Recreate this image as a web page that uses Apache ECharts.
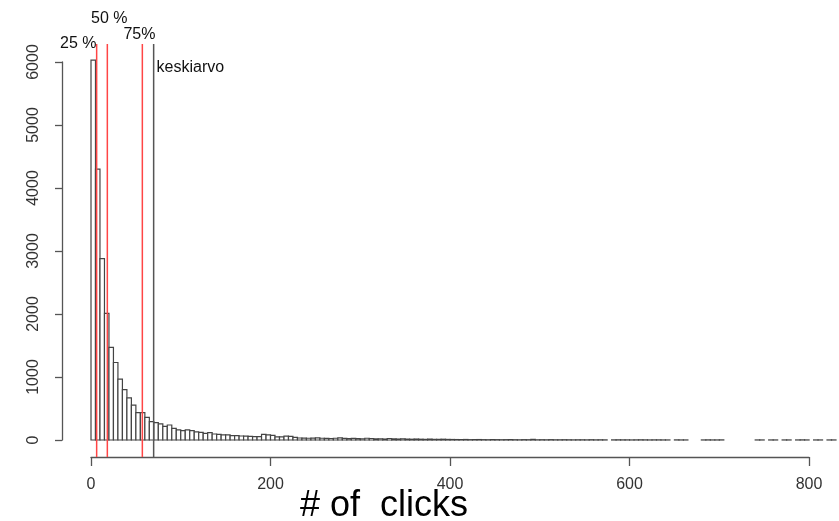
<!DOCTYPE html>
<html>
<head>
<meta charset="utf-8">
<style>
  html, body { margin: 0; padding: 0; background: #fff; }
  #chart { width: 839px; height: 521px; }
</style>
<script src="https://cdn.jsdelivr.net/npm/echarts@6/dist/echarts.min.js"></script>
</head>
<body>
<div id="chart"></div>
<script>
// ---- data ----
const binWidth = 5;
const counts = [
  6030,4300,2880,2010,1470,1230,965,800,670,555,435,435,360,290,275,
  255,215,238,185,160,150,160,148,128,122,106,116,95,90,80,
  80,70,70,63,60,58,55,55,88,80,72,50,48,62,58,
  40,32,30,28,30,35,28,25,24,28,34,26,22,25,22,
  20,28,24,18,20,15,24,18,15,20,14,12,15,12,10,14,10,10,12,9,8,
  7,6,8,5,6,7,5,4,6,5,
  4,5,6,4,3,5,4,10,3,4,
  3,5,3,3,4,3,2,3,3,2,
  4,2,3,2,
  0,
  2,3,2,2,1,2,3,2,1,2,2,
  1,1,0,
  2,1,1,
  0,0,0,
  1,2,1,1,2,
  0,0,0,0,0,0,0,
  1,1,0,1,1,0,1,1,0,1,2,1,0,1,1,0,1,1
];
const binStarts = counts.map((_, i) => i * binWidth);
const quantileValues = [6.3, 18.2, 57.2];
const quantileLabels = ['25 %', '50 %', '75%'];
const meanValue = 69.8;
const meanLabel = 'keskiarvo';
const xTickValues = [0, 200, 400, 600, 800];
const yTickValues = [0, 1000, 2000, 3000, 4000, 5000, 6000];
const xAxisTitle = '# of  clicks';

// ---- layout ----
const FONT = 'Liberation Sans, Arial, sans-serif';
const xMaxData = 830;
const yMinData = -270, yMaxData = 6286;

const chart = echarts.init(document.getElementById('chart'), null, { renderer: 'canvas' });

const histData = binStarts.map((s, i) => [s, counts[i]]);

const vLines = quantileValues.map((q) => ({
  type: 'line', xAxisIndex: 0, yAxisIndex: 0, symbol: 'none', silent: true, z: 5,
  data: [[q, yMinData], [q, yMaxData]],
  lineStyle: { color: '#ff4545', width: 1.5 }
}));
vLines.push({
  type: 'line', xAxisIndex: 0, yAxisIndex: 0, symbol: 'none', silent: true, z: 5,
  data: [[meanValue, yMinData], [meanValue, yMaxData]],
  lineStyle: { color: '#555', width: 1.5 }
});

const labelAnchors = [
  { value: [6.1, 6294, quantileLabels[0]], align: 'right' },
  { value: [20.4, 6683, quantileLabels[1]], align: 'center' },
  { value: [54.0, 6429, quantileLabels[2]], align: 'center' },
  { value: [73.0, 5913, meanLabel], align: 'left' }
];

const option = {
  animation: false,
  backgroundColor: '#fff',
  title: {
    text: xAxisTitle, left: 300, top: 488, padding: 0,
    textStyle: { fontFamily: FONT, fontSize: 36, fontWeight: 'normal', color: '#000' }
  },
  grid: [
    { left: 91, top: 44, width: 745, height: 413 },
    { left: 62, top: 62, width: 10, height: 378 },
    { left: 91, top: 440, width: 718, height: 17 }
  ],
  xAxis: [
    { gridIndex: 0, type: 'value', min: 0, max: xMaxData, show: false },
    { gridIndex: 1, type: 'value', show: false },
    {
      gridIndex: 2, type: 'value', min: xTickValues[0], max: xTickValues[xTickValues.length - 1],
      interval: xTickValues[1] - xTickValues[0], position: 'bottom',
      axisLine: { show: true, lineStyle: { color: '#555', width: 1.3 } },
      axisTick: { show: true, length: 9, lineStyle: { color: '#555', width: 1.3 } },
      axisLabel: { fontFamily: FONT, fontSize: 16, color: '#333', margin: 20, formatter: (v) => String(v) },
      splitLine: { show: false }
    }
  ],
  yAxis: [
    { gridIndex: 0, type: 'value', min: yMinData, max: yMaxData, show: false },
    {
      gridIndex: 1, type: 'value', min: yTickValues[0], max: yTickValues[yTickValues.length - 1],
      interval: yTickValues[1] - yTickValues[0], position: 'left',
      axisLine: { show: true, lineStyle: { color: '#555', width: 1.3 } },
      axisTick: { show: true, length: 7, lineStyle: { color: '#555', width: 1.3 } },
      axisLabel: { fontFamily: FONT, fontSize: 16, color: '#333', margin: 20, rotate: 90, formatter: (v) => String(v) },
      splitLine: { show: false }
    },
    { gridIndex: 2, type: 'value', show: false }
  ],
  series: [
    {
      type: 'custom', xAxisIndex: 0, yAxisIndex: 0, silent: true, clip: false,
      data: histData,
      encode: { x: 0, y: 1 },
      renderItem: function (params, api) {
        const x0 = api.value(0), c = api.value(1);
        if (!c) return null;
        const p1 = api.coord([x0, c]);
        const p2 = api.coord([x0 + binWidth, 0]);
        return {
          type: 'rect',
          shape: { x: p1[0], y: p1[1], width: p2[0] - p1[0], height: p2[1] - p1[1] },
          style: { fill: '#fff', stroke: '#444', lineWidth: 1.2 }
        };
      }
    },
    ...vLines,
    {
      type: 'scatter', xAxisIndex: 0, yAxisIndex: 0, silent: true, clip: false, z: 6,
      symbolSize: 0,
      itemStyle: { color: '#111', opacity: 1 },
      data: labelAnchors.map((a) => ({
        value: a.value,
        label: { align: a.align }
      })),
      label: {
        show: true, position: [0, 0], verticalAlign: 'middle',
        formatter: (p) => p.value[2],
        fontFamily: FONT, fontSize: 16, color: '#111', opacity: 1,
        textBorderWidth: 0
      }
    }
  ]
};

chart.setOption(option);
</script>
</body>
</html>
